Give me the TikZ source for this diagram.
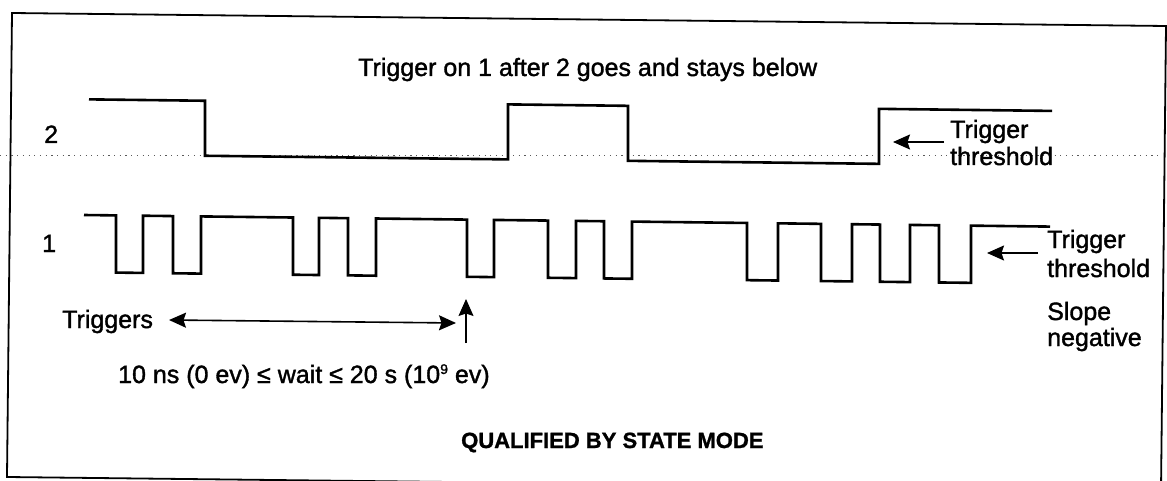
\documentclass[tikz,border=0pt]{standalone}
\usepackage{fontspec}
\setmainfont{Liberation Sans}
\newfontfamily\regsans{Liberation Sans}[FakeBold=1.4]
\newfontfamily\boldsans{Liberation Sans Bold}[FakeBold=1.2]
\usetikzlibrary{arrows.meta}
\begin{document}
\begin{tikzpicture}[x=1pt,y=-1pt,
  lbl/.style={anchor=base west, inner sep=0pt, font=\fontsize{25}{27}\regsans},
  lblbold/.style={anchor=base west, inner sep=0pt, font=\fontsize{22}{26}\boldsans},
  sig/.style={line width=2.6pt, line join=miter, line cap=butt},
  thinline/.style={line width=1.6pt},
  headA/.tip={Stealth[length=17pt,width=15pt,inset=2.5pt]},
  tipend/.style={-headA},
  tipboth/.style={headA-headA},
  frameline/.style={line width=1.8pt},
  thresh/.style={line width=1pt, dash pattern=on 1.2pt off 4.5pt, black!65}]
\useasboundingbox (0,0) rectangle (1167,481);
\clip (0,0) rectangle (1167,481);
\fill[white] (0,0) rectangle (1167,481);
% frame (scan slightly rotated)
\draw[frameline] (12,13) -- (1166,26) -- (1161,490) -- (7,477) -- cycle;
% threshold dotted line
\draw[thresh] (0,156) -- (1160,156);
% title
\node[lbl] (title) at (358,76) {Trigger on 1 after 2 goes and stays below};
% channel labels
\node[lbl] (lab2) at (44,143) {2};
\node[lbl] (lab1) at (42,252) {1};
% signals
\begin{scope}[cm={1,-0.012,0,1,(0,0)}]
\draw[sig] (89,98.3) -| (205,153.3) -| (508,98.3) -| (628,153.3) -| (879,98.3) -- (1052,98.3);
\draw[sig] (84,214) -| (116,271.2) -| (143,214) -| (173,271.2) -| (201,214)
  -| (293,271.2) -| (319,214) -| (348,271.2) -| (376,214)
  -| (467,271.2) -| (494,214) -| (548,271.2) -| (576,214) -| (604,271.2) -| (632,214)
  -| (747,271.2) -| (778,214) -| (821,271.2) -| (852,214) -| (880,271.2) -| (910,214)
  -| (939,271.2) -| (971,214) -- (1050,214);
\end{scope}
% upper threshold label
\node[lbl] (thr2a) at (950,138) {Trigger};
\node[lbl] (thr2b) at (950,165) {threshold};
\coordinate (a2s) at (944,142);
\coordinate (a2e) at (893,142);
\draw[thinline,tipend] (a2s) -- (a2e);
% lower threshold label
\node[lbl] (thr1a) at (1047,248) {Trigger};
\node[lbl] (thr1b) at (1047,277) {threshold};
\node[lbl] (slope1) at (1047,320) {Slope};
\node[lbl] (slope2) at (1047,346) {negative};
\coordinate (a1s) at (1038,253);
\coordinate (a1e) at (987,253);
\draw[thinline,tipend] (a1s) -- (a1e);
% triggers
\node[lbl] (trig) at (62,328) {Triggers};
\coordinate (dl) at (169,320);
\coordinate (dr) at (456,323);
\draw[thinline,tipboth] (dl) -- (dr);
\coordinate (ub) at (466,343);
\coordinate (ut) at (466,299);
\draw[line width=1.2pt,tipend] (ub) -- (ut);
\node[lbl] (wait) at (118,383) {10 ns (0 ev) ≤ wait ≤ 20 s (10{\fontsize{14}{14}\regsans\raisebox{9pt}{9}} ev)};
\node[lblbold] (mode) at (461,448) {QUALIFIED BY STATE MODE};
\end{tikzpicture}
\end{document}
